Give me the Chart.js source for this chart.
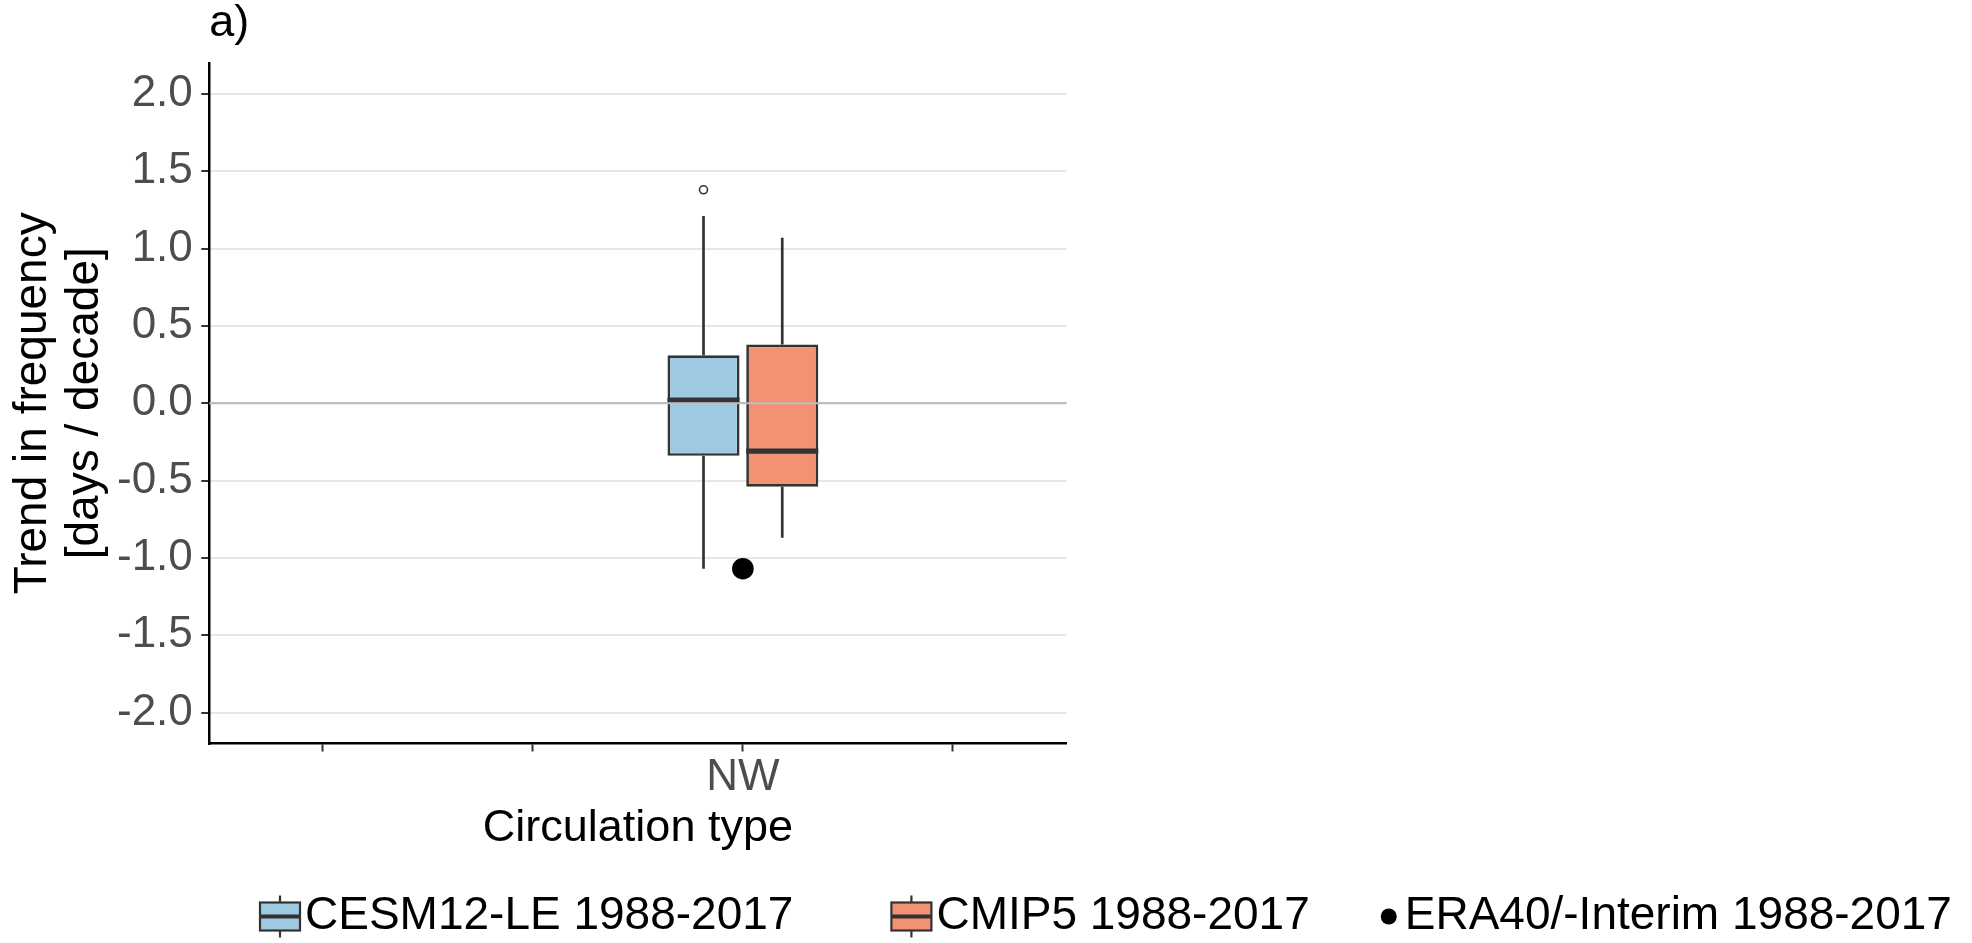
<!DOCTYPE html>
<html>
<head>
<meta charset="utf-8">
<title>Trend in frequency by circulation type</title>
<script src="https://cdn.jsdelivr.net/npm/chart.js@4/dist/chart.umd.min.js"></script>
<style>
  html, body { margin: 0; padding: 0; background: #ffffff; }
  canvas { display: block; }
</style>
</head>
<body>
<canvas id="chart" width="1972" height="943"></canvas>
<script>
// ---- data ---------------------------------------------------------------
const categories = ['', '', 'NW', ''];
const yTicks = [-2, -1.5, -1, -0.5, 0, 0.5, 1, 1.5, 2];

// CESM12-LE ensemble, 1988-2017 (box summary per circulation type)
const cesmLower    = [null, null, -1.07, null];
const cesmQ1       = [null, null, -0.34, null];
const cesmMedian   = [null, null, 0.02, null];
const cesmQ3       = [null, null, 0.31, null];
const cesmUpper    = [null, null, 1.21, null];
const cesmOutliers = [[], [], [1.38], []];

// CMIP5 ensemble, 1988-2017
const cmipLower    = [null, null, -0.87, null];
const cmipQ1       = [null, null, -0.54, null];
const cmipMedian   = [null, null, -0.31, null];
const cmipQ3       = [null, null, 0.38, null];
const cmipUpper    = [null, null, 1.07, null];
const cmipOutliers = [[], [], [], []];

// Reanalysis trend, 1988-2017
const eraTrend = [null, null, -1.07, null];

// ---- styling ------------------------------------------------------------
const FONT = "'Liberation Sans', Arial, Helvetica, sans-serif";
const INK = '#333333';
const TICK_TEXT = '#4D4D4D';
Chart.defaults.font.family = FONT;

function boxData(q1, q3) {
  return categories
    .map((c, i) => (q1[i] == null ? null : { x: i + 1, y: [q1[i], q3[i]] }))
    .filter(Boolean);
}
function pointData(values) {
  return categories
    .map((c, i) => (values[i] == null ? null : { x: i + 1, y: values[i] }))
    .filter(Boolean);
}

// Whiskers, medians, outliers and the zero reference line on top of the boxes
const boxExtras = {
  id: 'boxExtras',
  afterDatasetsDraw(chart) {
    const { ctx, chartArea } = chart;
    const y = chart.scales.y;
    ctx.save();
    chart.data.datasets.forEach((ds, di) => {
      if (!ds.stats) return;
      const meta = chart.getDatasetMeta(di);
      meta.data.forEach((bar, j) => {
        const i = ds.data[j].x - 1;
        const s = ds.stats;
        const { x, width } = bar.getProps(['x', 'width'], true);
        const half = width / 2;
        ctx.strokeStyle = INK;
        ctx.lineCap = 'butt';
        ctx.lineWidth = 2.7;
        ctx.beginPath();
        ctx.moveTo(x, y.getPixelForValue(s.q3[i]));
        ctx.lineTo(x, y.getPixelForValue(s.upper[i]));
        ctx.moveTo(x, y.getPixelForValue(s.q1[i]));
        ctx.lineTo(x, y.getPixelForValue(s.lower[i]));
        ctx.stroke();
        const ym = y.getPixelForValue(s.median[i]);
        ctx.lineWidth = 5.2;
        ctx.beginPath();
        ctx.moveTo(x - half, ym);
        ctx.lineTo(x + half, ym);
        ctx.stroke();
        ctx.lineWidth = 1.6;
        (s.outliers[i] || []).forEach((v) => {
          ctx.beginPath();
          ctx.arc(x, y.getPixelForValue(v), 4, 0, Math.PI * 2);
          ctx.stroke();
        });
      });
    });
    const y0 = y.getPixelForValue(0);
    ctx.strokeStyle = '#BEBEBE';
    ctx.lineWidth = 2;
    ctx.beginPath();
    ctx.moveTo(chartArea.left, y0);
    ctx.lineTo(chartArea.right, y0);
    ctx.stroke();
    ctx.restore();
  }
};

// Key row under the plot: fill legend followed by the point legend
const bottomKey = {
  id: 'bottomKey',
  afterDraw(chart, args, opts) {
    const ctx = chart.ctx;
    ctx.save();
    ctx.font = opts.fontSize + 'px ' + FONT;
    ctx.textBaseline = 'middle';
    ctx.textAlign = 'left';
    const cy = opts.centerY;
    let x = opts.startX;
    const sets = chart.data.datasets;
    sets.forEach((ds, di) => {
      let textX;
      if (ds.keyGroup === 'fill') {
        const w = 40, h = 28, stub = 7, cx = x + w / 2;
        ctx.strokeStyle = INK;
        ctx.lineWidth = 2.2;
        ctx.beginPath();
        ctx.moveTo(cx, cy - h / 2 - stub); ctx.lineTo(cx, cy - h / 2);
        ctx.moveTo(cx, cy + h / 2); ctx.lineTo(cx, cy + h / 2 + stub);
        ctx.stroke();
        ctx.fillStyle = ds.backgroundColor;
        ctx.fillRect(x, cy - h / 2, w, h);
        ctx.strokeRect(x, cy - h / 2, w, h);
        ctx.lineWidth = 4;
        ctx.beginPath();
        ctx.moveTo(x, cy); ctx.lineTo(x + w, cy);
        ctx.stroke();
        textX = x + w + 5;
      } else {
        const r = 8;
        ctx.fillStyle = '#000';
        ctx.beginPath();
        ctx.arc(x + r, cy, r, 0, Math.PI * 2);
        ctx.fill();
        textX = x + 2 * r + 8;
      }
      ctx.fillStyle = '#000';
      ctx.fillText(ds.label, textX, cy);
      const next = sets[di + 1];
      const gap = next && next.keyGroup !== ds.keyGroup ? opts.legendGap : opts.itemGap;
      x = textX + ctx.measureText(ds.label).width + gap;
    });
    ctx.restore();
  }
};

new Chart(document.getElementById('chart'), {
  type: 'bar',
  data: {
    datasets: [
      {
        label: 'CESM12-LE 1988-2017',
        data: boxData(cesmQ1, cesmQ3),
        backgroundColor: '#9ECAE1',
        borderColor: INK,
        borderWidth: 2.7,
        borderSkipped: false,
        categoryPercentage: 0.75,
        barPercentage: 0.915,
        keyGroup: 'fill',
        stats: { lower: cesmLower, q1: cesmQ1, median: cesmMedian, q3: cesmQ3, upper: cesmUpper, outliers: cesmOutliers }
      },
      {
        label: 'CMIP5 1988-2017',
        data: boxData(cmipQ1, cmipQ3),
        backgroundColor: '#F29272',
        borderColor: INK,
        borderWidth: 2.7,
        borderSkipped: false,
        categoryPercentage: 0.75,
        barPercentage: 0.915,
        keyGroup: 'fill',
        stats: { lower: cmipLower, q1: cmipQ1, median: cmipMedian, q3: cmipQ3, upper: cmipUpper, outliers: cmipOutliers }
      },
      {
        type: 'scatter',
        label: 'ERA40/-Interim 1988-2017',
        data: pointData(eraTrend),
        pointRadius: 10.8,
        pointBackgroundColor: '#000000',
        pointBorderWidth: 0,
        keyGroup: 'shape'
      }
    ]
  },
  options: {
    responsive: false,
    animation: false,
    devicePixelRatio: 1,
    events: [],
    layout: { padding: { left: 0, top: 0, right: 905.5, bottom: 90 } },
    scales: {
      x: {
        type: 'linear',
        min: 0.4586,
        max: 4.5414,
        offset: false,
        afterBuildTicks: (scale) => { scale.ticks = categories.map((c, i) => ({ value: i + 1 })); },
        ticks: {
          autoSkip: false,
          maxRotation: 0,
          padding: 4,
          color: TICK_TEXT,
          font: { size: 44, lineHeight: 1 },
          callback: (v) => categories[Math.round(v) - 1]
        },
        grid: {
          offset: false,
          drawOnChartArea: false,
          drawTicks: true,
          tickLength: 8,
          tickColor: INK,
          tickWidth: 2
        },
        border: { display: true, color: '#000000', width: 2.5 },
        title: {
          display: true,
          text: 'Circulation type',
          color: '#000000',
          font: { size: 45, lineHeight: 1 },
          padding: { top: 2.5, bottom: 2 }
        }
      },
      y: {
        type: 'linear',
        min: -2.2,
        max: 2.2,
        afterBuildTicks: (scale) => { scale.ticks = yTicks.map((v) => ({ value: v })); },
        afterFit: (scale) => { scale.width = 209.3; },
        ticks: {
          padding: 8.5,
          color: TICK_TEXT,
          font: { size: 44, lineHeight: 1 },
          callback: (v) => Number(v).toFixed(1)
        },
        grid: {
          color: (c) => (c.tick && c.tick.value === 0 ? '#BEBEBE' : '#E6E6E6'),
          lineWidth: 2,
          drawTicks: true,
          tickLength: 8,
          tickColor: INK,
          tickWidth: 2
        },
        border: { display: true, color: '#000000', width: 2.5 },
        title: {
          display: true,
          text: ['Trend in frequency', '[days / decade]'],
          color: '#000000',
          font: { size: 46, lineHeight: 1.12 },
          padding: { top: 7.8, bottom: 0 }
        }
      }
    },
    plugins: {
      legend: { display: false },
      tooltip: { enabled: false },
      title: {
        display: true,
        text: 'a)',
        align: 'start',
        fullSize: false,
        color: '#000000',
        font: { size: 45, weight: 'normal', lineHeight: 1 },
        padding: { top: 1.5, bottom: 16.5 }
      },
      bottomKey: {
        startX: 260,
        centerY: 916.5,
        fontSize: 46,
        itemGap: 98,
        legendGap: 71
      }
    }
  },
  plugins: [boxExtras, bottomKey]
});
</script>
</body>
</html>
